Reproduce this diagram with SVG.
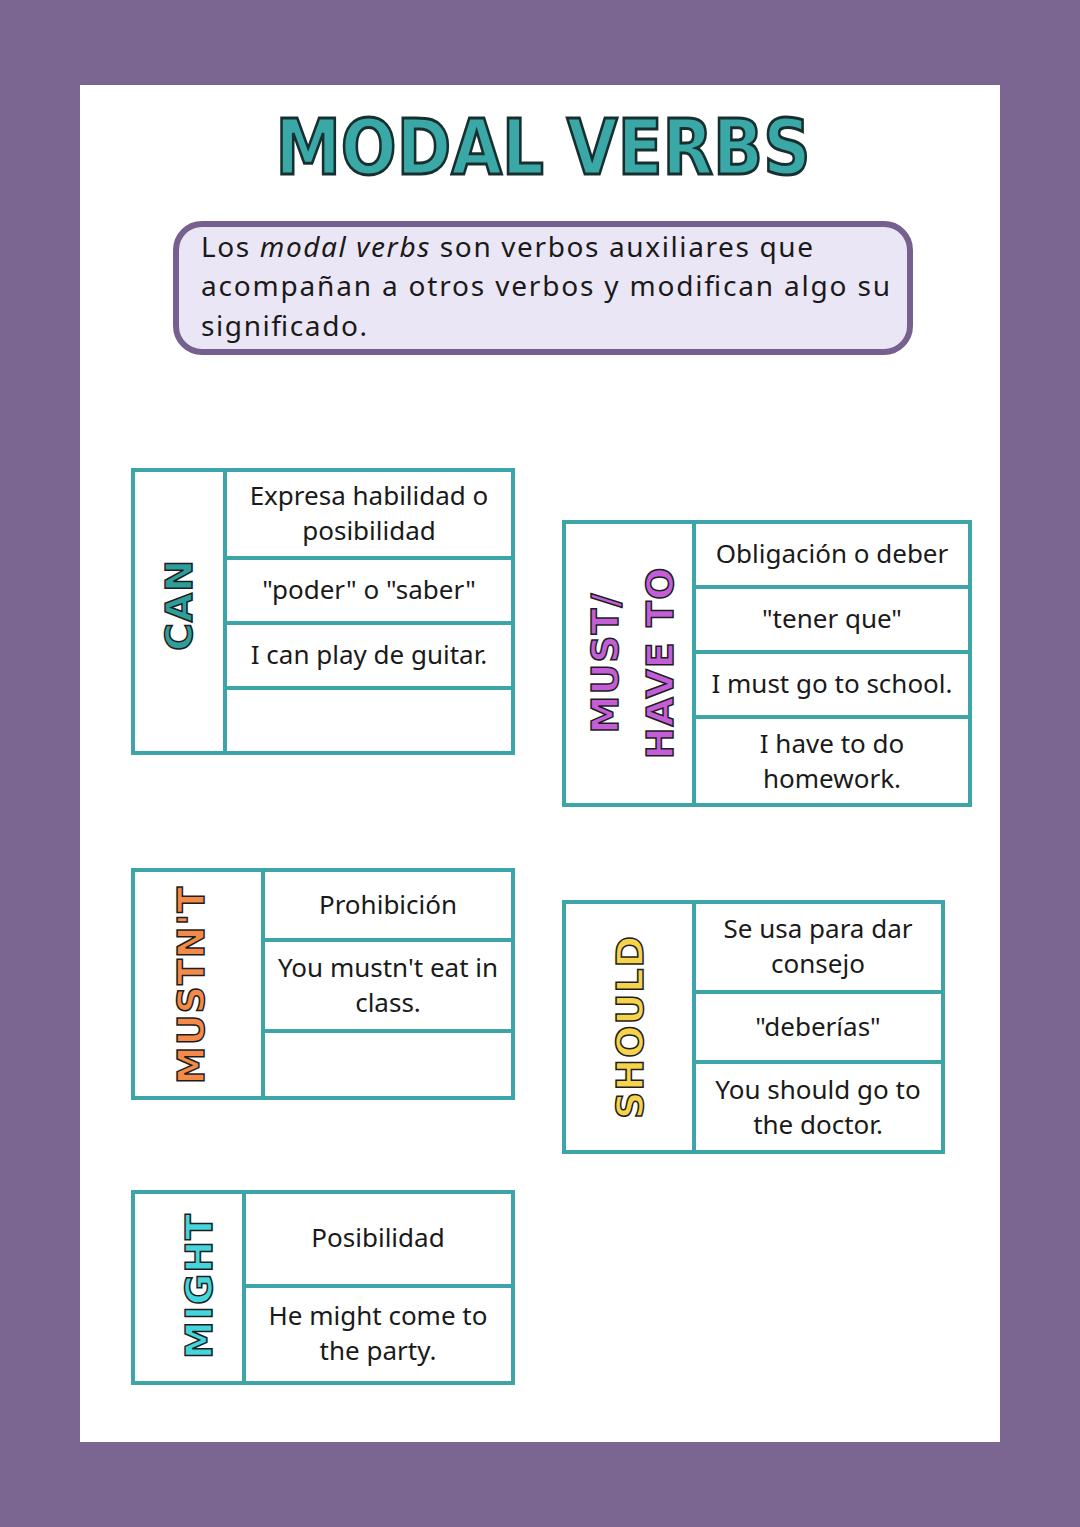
<svg xmlns="http://www.w3.org/2000/svg" width="1080" height="1527" viewBox="0 0 1080 1527">
<style>
.b{fill:none;stroke:#3da5a7;stroke-width:4}
.t{font-family:"Noto Sans","Liberation Sans",sans-serif;font-size:26px;fill:#1a1a1a;text-anchor:middle}
.v{font-family:"DejaVu Sans",sans-serif;font-weight:bold;font-size:38px;text-anchor:middle;stroke:#1e1e1e;stroke-width:1.5;letter-spacing:1px}
</style>
<rect width="1080" height="1527" fill="#7b6591"/>
<rect x="80" y="85" width="920" height="1357" fill="#fff"/>
<g id="title"><text x="543" y="174" font-family="DejaVu Sans,sans-serif" font-weight="bold" font-size="76" fill="#3aa8a6" stroke="#17302f" stroke-width="3" text-anchor="middle" textLength="535" lengthAdjust="spacingAndGlyphs">MODAL VERBS</text></g>
<g id="intro">
<rect x="176" y="224" width="734" height="128" rx="26" fill="#ebe6f5" stroke="#75608f" stroke-width="6"/>
<text font-family="Noto Sans,Liberation Sans,sans-serif" font-size="28" fill="#1a1a1a"><tspan x="201" y="257" textLength="612">Los <tspan font-style="italic">modal verbs</tspan> son verbos auxiliares que</tspan><tspan x="201" y="296" textLength="689">acompañan a otros verbos y modifican algo su</tspan><tspan x="201" y="336" textLength="166">significado.</tspan></text>
</g>
<g id="can">
<rect class="b" x="133" y="470" width="380" height="283"/>
<path class="b" d="M225 470V753M225 558H513M225 623H513M225 688H513"/>
<text class="v" fill="#2e9e9c" transform="translate(192,605) rotate(-90)">CAN</text>
<text class="t" x="369" y="505">Expresa habilidad o</text><text class="t" x="369" y="540">posibilidad</text>
<text class="t" x="369" y="599">"poder" o "saber"</text>
<text class="t" x="369" y="664">I can play de guitar.</text>
</g>
<g id="must">
<rect class="b" x="564" y="522" width="406" height="283"/>
<path class="b" d="M694 522V805M694 587H970M694 652H970M694 717H970"/>
<text class="v" fill="#c35ed8" transform="translate(618,663) rotate(-90)">MUST/</text>
<text class="v" fill="#c35ed8" transform="translate(673,663) rotate(-90)">HAVE TO</text>
<text class="t" x="832" y="563">Obligación o deber</text>
<text class="t" x="832" y="628">"tener que"</text>
<text class="t" x="832" y="693">I must go to school.</text>
<text class="t" x="832" y="753">I have to do</text><text class="t" x="832" y="788">homework.</text>
</g>
<g id="mustnt">
<rect class="b" x="133" y="870" width="380" height="228"/>
<path class="b" d="M263 870V1098M263 940H513M263 1031H513"/>
<text class="v" fill="#f48a47" transform="translate(204,985) rotate(-90)">MUSTN'T</text>
<text class="t" x="388" y="914">Prohibición</text>
<text class="t" x="388" y="977">You mustn't eat in</text><text class="t" x="388" y="1012">class.</text>
</g>
<g id="should">
<rect class="b" x="564" y="902" width="379" height="250"/>
<path class="b" d="M694 902V1152M694 992H943M694 1062H943"/>
<text class="v" fill="#f6d34a" transform="translate(643,1027) rotate(-90)">SHOULD</text>
<text class="t" x="818" y="938">Se usa para dar</text><text class="t" x="818" y="973">consejo</text>
<text class="t" x="818" y="1036">"deberías"</text>
<text class="t" x="818" y="1099">You should go to</text><text class="t" x="818" y="1134">the doctor.</text>
</g>
<g id="might">
<rect class="b" x="133" y="1192" width="380" height="191"/>
<path class="b" d="M244 1192V1383M244 1286H513"/>
<text class="v" fill="#45d5dd" transform="translate(212,1286) rotate(-90)">MIGHT</text>
<text class="t" x="378" y="1247">Posibilidad</text>
<text class="t" x="378" y="1325">He might come to</text><text class="t" x="378" y="1360">the party.</text>
</g>
<g id="connectors"/>
</svg>
